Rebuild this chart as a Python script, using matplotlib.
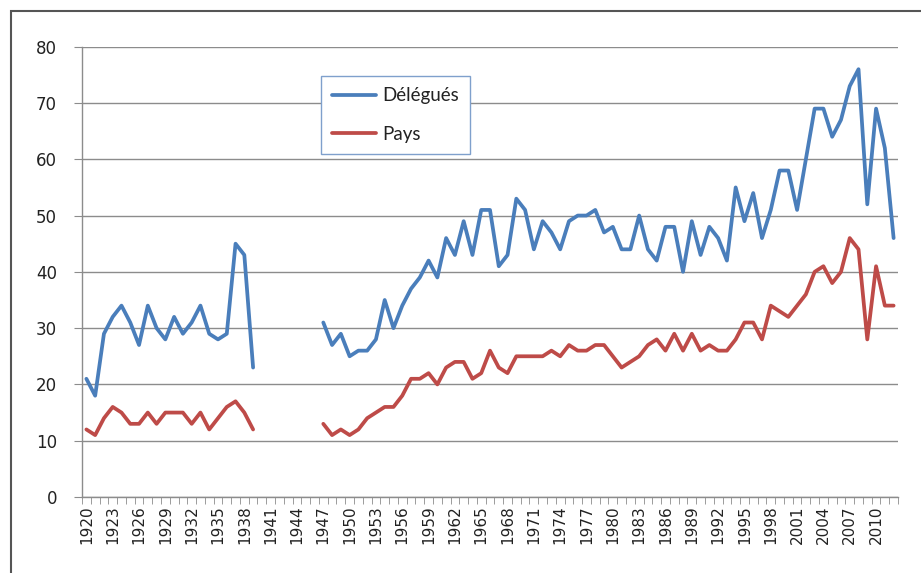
import numpy as np
import matplotlib
matplotlib.use("Agg")
import matplotlib.pyplot as plt
from matplotlib.patches import Rectangle

# ---- data ----
years_pre = list(range(1920, 1940))
delegues_pre = [21, 18, 29, 32, 34, 31, 27, 34, 30, 28, 32, 29, 31, 34, 29, 28, 29, 45, 43, 23]
pays_pre = [12, 11, 14, 16, 15, 13, 13, 15, 13, 15, 15, 15, 13, 15, 12, 14, 16, 17, 15, 12]

years_post = list(range(1947, 2013))
delegues_post = [31, 27, 29, 25, 26, 26, 28, 35, 30, 34, 37, 39, 42, 39, 46, 43, 49, 43, 51, 51,
                 41, 43, 53, 51, 44, 49, 47, 44, 49, 50, 50, 51, 47, 48, 44, 44, 50, 44, 42, 48,
                 48, 40, 49, 43, 48, 46, 42, 55, 49, 54, 46, 51, 58, 58, 51, 60, 69, 69, 64, 67,
                 73, 76, 52, 69, 62, 46]
pays_post = [13, 11, 12, 11, 12, 14, 15, 16, 16, 18, 21, 21, 22, 20, 23, 24, 24, 21, 22, 26,
             23, 22, 25, 25, 25, 25, 26, 25, 27, 26, 26, 27, 27, 25, 23, 24, 25, 27, 28, 26,
             29, 26, 29, 26, 27, 26, 26, 28, 31, 31, 28, 34, 33, 32, 34, 36, 40, 41, 38, 40,
             46, 44, 28, 41, 34, 34]

tick_years = list(range(1920, 2013, 3))
series_names = ["Délégués", "Pays"]
colors = ["#4A7EBB", "#BE4B48"]

# assemble full series with gap
all_years = np.arange(1920, 2013)
def full(pre, post):
    arr = np.full(len(all_years), np.nan)
    for y, v in zip(years_pre, pre):
        arr[y - 1920] = v
    for y, v in zip(years_post, post):
        arr[y - 1920] = v
    return arr

del_full = full(delegues_pre, delegues_post)
pays_full = full(pays_pre, pays_post)

fig = plt.figure(figsize=(9.21, 5.73), dpi=100)
ax = fig.add_axes([82/921, 1 - 497/573, (898-82)/921, (497-46.7)/573])

ax.plot(all_years, del_full, color=colors[0], lw=2.7, label=series_names[0],
        solid_joinstyle="round", solid_capstyle="round")
ax.plot(all_years, pays_full, color=colors[1], lw=2.7, label=series_names[1],
        solid_joinstyle="round", solid_capstyle="round")

ax.set_xlim(1919.5, 2012.5)
ax.set_ylim(0, 80)
ax.set_yticks(range(0, 81, 10))
ax.yaxis.grid(True, color="#8C8C8C", lw=1)
ax.set_axisbelow(True)

ax.set_xticks(tick_years)
ax.set_xticklabels([str(y) for y in tick_years], rotation=90, fontsize=11,
                   family="DejaVu Sans", color="#222222")
ax.set_xticks(np.arange(1919.5, 2013, 1), minor=True)
ax.tick_params(axis="x", which="major", length=0, pad=6)
ax.tick_params(axis="x", which="minor", length=5, color="#8C8C8C", direction="out")
ax.tick_params(axis="y", length=6, color="#8C8C8C", labelsize=12, pad=12, labelcolor="#222222")

for s in ["top", "right"]:
    ax.spines[s].set_visible(False)
for s in ["left", "bottom"]:
    ax.spines[s].set_color("#8C8C8C")
    ax.spines[s].set_linewidth(1)

leg = ax.legend(loc="upper left", bbox_to_anchor=(0.293, 0.935), borderaxespad=0,
                frameon=True, fancybox=False, edgecolor="#7FA0CC", framealpha=1,
                handlelength=2.35, handletextpad=0.3, labelspacing=1.15,
                borderpad=0.6, prop={"family": "Lato", "size": 13.5})
leg.get_frame().set_linewidth(1.0)
for t in leg.get_texts():
    t.set_color("#222222")

# outer chart border
fig.patches.append(Rectangle((10.5/921, 1 - 600/573), 1.2, (600 - 11)/573,
                             transform=fig.transFigure, fill=False,
                             edgecolor="#555555", lw=1.5, clip_on=False))

fig.savefig("out.png", dpi=100)
